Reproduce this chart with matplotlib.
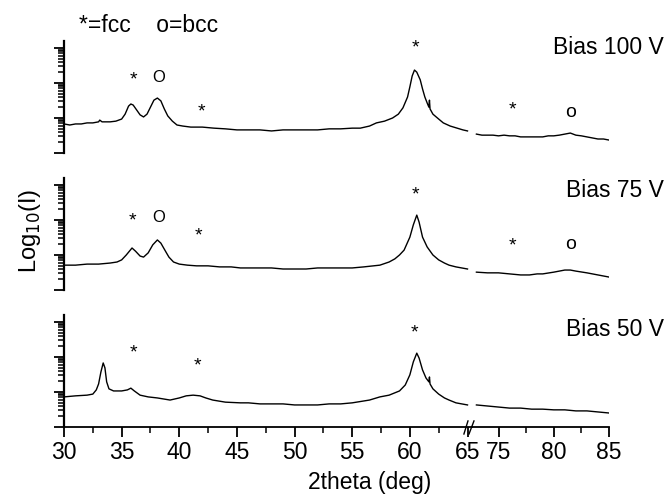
import numpy as np
import matplotlib
matplotlib.use('Agg')
import matplotlib.pyplot as plt
from matplotlib.ticker import FixedLocator, NullFormatter

plt.rcParams['font.family'] = ['Liberation Sans', 'DejaVu Sans']

# log10 intensity traces, low-angle part (30-65 deg)
x_100 = [30.0, 30.5, 31.0, 31.5, 32.0, 32.5, 33.0, 33.1, 33.3, 33.5, 34.0, 34.5, 35.0, 35.3, 35.6, 35.8, 36.0, 36.3,
         36.6, 36.9, 37.2, 37.5, 37.8, 38.1, 38.4, 38.7, 39.0, 39.4, 39.8, 40.3, 41, 42, 43, 44, 45, 46, 47, 48, 49,
         50, 51, 52, 53, 54, 55, 55.7, 56.5, 57.1, 57.8, 58.5, 59.0, 59.4, 59.8, 60.0, 60.2, 60.4, 60.6, 60.9, 61.1,
         61.3, 61.5, 61.65, 61.7, 61.75, 62.0, 62.5, 62.9, 63.5, 64.1, 64.6, 65.0]
y_100 = [1.83, 1.80, 1.83, 1.83, 1.86, 1.86, 1.89, 1.94, 1.89, 1.89, 1.89, 1.91, 1.97, 2.11, 2.34, 2.40, 2.37, 2.23,
         2.09, 2.03, 2.11, 2.31, 2.51, 2.57, 2.49, 2.26, 2.06, 1.91, 1.80, 1.77, 1.74, 1.74, 1.71, 1.69, 1.66, 1.66,
         1.66, 1.63, 1.66, 1.66, 1.66, 1.66, 1.69, 1.69, 1.71, 1.71, 1.77, 1.86, 1.91, 2.00, 2.11, 2.29, 2.60, 2.89,
         3.20, 3.37, 3.31, 3.09, 2.83, 2.60, 2.43, 2.31, 2.51, 2.26, 2.11, 1.97, 1.86, 1.77, 1.71, 1.66, 1.63]

x_75 = [30, 31, 32, 33, 34, 34.6, 35.0, 35.4, 35.9, 36.2, 36.6, 36.9, 37.3, 37.7, 38.1, 38.4, 38.8, 39.1, 39.5, 40.0,
        40.7, 41.5, 42.5, 43.5, 44.5, 45.3, 46, 47, 48, 49, 50, 51, 52, 53, 54, 55, 56, 57.4, 58.2, 58.7, 59.1, 59.5,
        60.0, 60.3, 60.6, 60.8, 61.1, 61.5, 62.0, 62.5, 63.0, 63.4, 64.0, 64.5, 65.0]
y_75 = [1.71, 1.71, 1.74, 1.74, 1.77, 1.80, 1.86, 2.00, 2.20, 2.11, 1.97, 1.94, 2.06, 2.29, 2.43, 2.34, 2.11, 1.94,
        1.80, 1.74, 1.71, 1.69, 1.69, 1.66, 1.66, 1.63, 1.63, 1.63, 1.63, 1.60, 1.60, 1.60, 1.63, 1.63, 1.63, 1.63,
        1.66, 1.71, 1.80, 1.89, 2.00, 2.14, 2.51, 2.86, 3.14, 2.94, 2.51, 2.23, 2.00, 1.86, 1.77, 1.71, 1.66, 1.63, 1.60]

x_50 = [30, 31, 32, 32.5, 32.8, 33.0, 33.2, 33.4, 33.55, 33.7, 33.9, 34.3, 35.0, 35.5, 35.8, 36.1, 36.6, 37.3, 38.1,
        39.2, 40.0, 40.6, 41.2, 41.8, 42.3, 42.9, 44, 45.3, 46, 47, 48, 49, 50, 51, 52, 53, 54, 55, 56.5, 57.4, 58.2,
        59.1, 59.6, 60.0, 60.3, 60.6, 60.8, 61.1, 61.4, 61.65, 61.7, 61.75, 62.0, 62.5, 63.0, 63.4, 64.0, 64.5, 65.0]
y_50 = [1.86, 1.89, 1.91, 1.94, 2.06, 2.23, 2.57, 2.83, 2.69, 2.29, 2.09, 2.03, 2.03, 2.06, 2.11, 2.03, 1.91, 1.86,
        1.83, 1.77, 1.83, 1.89, 1.91, 1.89, 1.83, 1.77, 1.71, 1.69, 1.69, 1.66, 1.66, 1.66, 1.63, 1.63, 1.63, 1.66,
        1.66, 1.69, 1.77, 1.86, 1.91, 2.03, 2.20, 2.49, 2.86, 3.11, 2.97, 2.63, 2.40, 2.29, 2.43, 2.23, 2.09, 1.94,
        1.83, 1.77, 1.69, 1.66, 1.63]

# high-angle part (73-85 deg)
xr_100 = [73, 73.5, 74, 74.5, 75, 75.5, 76, 76.5, 77, 77.5, 78, 78.5, 79, 79.5, 80, 80.5, 81, 81.5, 82, 82.5, 83,
          83.5, 84, 84.5, 85]
yr_100 = [1.54, 1.51, 1.51, 1.51, 1.49, 1.51, 1.49, 1.49, 1.46, 1.46, 1.46, 1.46, 1.46, 1.49, 1.49, 1.51, 1.54,
          1.57, 1.51, 1.49, 1.46, 1.43, 1.40, 1.40, 1.37]
xr_75 = [73, 74, 75, 76, 77, 77.8, 78.5, 79, 80, 80.5, 81, 81.5, 82, 83, 84, 85]
yr_75 = [1.51, 1.49, 1.49, 1.46, 1.43, 1.43, 1.46, 1.46, 1.51, 1.54, 1.57, 1.57, 1.54, 1.49, 1.43, 1.37]
xr_50 = [73, 74, 75, 76, 77, 78, 79, 80, 81, 82, 83, 84, 85]
yr_50 = [1.63, 1.60, 1.57, 1.54, 1.54, 1.51, 1.51, 1.49, 1.49, 1.46, 1.46, 1.43, 1.40]

biases = ['Bias 100 V', 'Bias 75 V', 'Bias 50 V']
left_traces = [(x_100, y_100), (x_75, y_75), (x_50, y_50)]
right_traces = [(xr_100, yr_100), (xr_75, yr_75), (xr_50, yr_50)]

# phase markers: (x, log10 I, symbol) per panel
marks_left = [
    [(36.0, 3.17, '*'), (38.2, 3.17, 'O'), (41.9, 2.26, '*'), (60.5, 4.09, '*')],
    [(35.9, 3.06, '*'), (38.2, 3.06, 'O'), (41.7, 2.63, '*'), (60.5, 3.80, '*')],
    [(36.0, 3.20, '*'), (41.6, 2.83, '*'), (60.4, 3.77, '*')],
]
marks_right = [
    [(76.3, 2.31, '*'), (81.5, 2.17, 'o')],
    [(76.3, 2.34, '*'), (81.5, 2.29, 'o')],
    [],
]

W, H = 668, 497
fig = plt.figure(figsize=(W / 100, H / 100), dpi=100)

panel_bottoms = [153, 290, 427]
panel_h = 112
lx0, lx1, rx1 = 64, 472, 609

minor_log = [d + np.log10(k) for d in range(0, 5) for k in range(2, 10)]


def put_mark(ax, x, v, sym):
    # asterisks sit high in the glyph box, so nudge them down a little
    if sym == '*':
        ax.text(x, 10 ** (v - 0.08), sym, ha='center', va='center', fontsize=14)
    elif sym == 'O':
        ax.text(x, 10 ** v, sym, ha='center', va='center', fontsize=12)
    else:
        ax.text(x, 10 ** v, sym, ha='center', va='center', fontsize=14)


for i in range(3):
    b = (H - panel_bottoms[i]) / H
    h = panel_h / H
    axl = fig.add_axes([lx0 / W, b, (lx1 - lx0) / W, h])
    axr = fig.add_axes([lx1 / W, b, (rx1 - lx1) / W, h])

    xs, ys = left_traces[i]
    axl.plot(xs, 10 ** np.array(ys), color='black', lw=1.0)
    xs, ys = right_traces[i]
    axr.plot(xs, 10 ** np.array(ys), color='black', lw=1.0)

    for ax in (axl, axr):
        ax.set_yscale('log')
        ax.set_ylim(10, 10 ** 4.2)
        for s in ('top', 'right'):
            ax.spines[s].set_visible(False)
        ax.set_facecolor('none')
    axl.set_xlim(30, 65.39)
    axr.set_xlim(72.6, 85)

    axl.yaxis.set_major_locator(FixedLocator([10, 100, 1000, 10000]))
    axl.yaxis.set_minor_locator(FixedLocator([10 ** v for v in minor_log]))
    axl.yaxis.set_major_formatter(NullFormatter())
    axl.yaxis.set_minor_formatter(NullFormatter())
    axl.tick_params(axis='y', which='major', direction='out', length=7, width=1.3)
    axl.tick_params(axis='y', which='minor', direction='out', length=4, width=1.1)
    axl.spines['left'].set_linewidth(1.6)
    axr.spines['left'].set_visible(False)
    axr.tick_params(axis='y', which='both', left=False, labelleft=False)

    if i < 2:
        for ax in (axl, axr):
            ax.spines['bottom'].set_visible(False)
            ax.tick_params(axis='x', which='both', bottom=False, labelbottom=False)
    else:
        axl.set_xticks([30, 35, 40, 45, 50, 55, 60, 65])
        axl.set_xticks([32.5, 37.5, 42.5, 47.5, 52.5, 57.5, 62.5], minor=True)
        axr.set_xticks([75, 80, 85])
        axr.set_xticks([77.5, 82.5], minor=True)
        for ax in (axl, axr):
            ax.spines['bottom'].set_linewidth(1.3)
            ax.tick_params(axis='x', which='major', direction='out', length=7, width=1.3,
                           labelsize=16.5, pad=3)
            ax.tick_params(axis='x', which='minor', direction='out', length=4, width=1.1)
        # axis break marks
        for x0, x1 in [(64.69, 65.04), (65.13, 65.56)]:
            axl.plot([x0, x1], [-0.0625, 0.054], color='black', lw=1.0,
                     transform=axl.get_xaxis_transform(), clip_on=False)

    for x, v, sym in marks_left[i]:
        put_mark(axl, x, v, sym)
    for x, v, sym in marks_right[i]:
        put_mark(axr, x, v, sym)

bias_y = [48, 190, 330]
for lab, py in zip(biases, bias_y):
    fig.text(664 / W, 1 - py / H, lab, ha='right', va='center', fontsize=16.5)

fig.text(79 / W, 1 - 25 / H, '*=fcc    o=bcc', ha='left', va='center', fontsize=16.5)
fig.text(30 / W, 1 - 231 / H, 'Log$_{10}$(I)', rotation=90, ha='center', va='center', fontsize=17)
fig.text(370 / W, 1 - 482 / H, '2theta (deg)', ha='center', va='center', fontsize=16.5)

fig.savefig('out.png', dpi=100)
